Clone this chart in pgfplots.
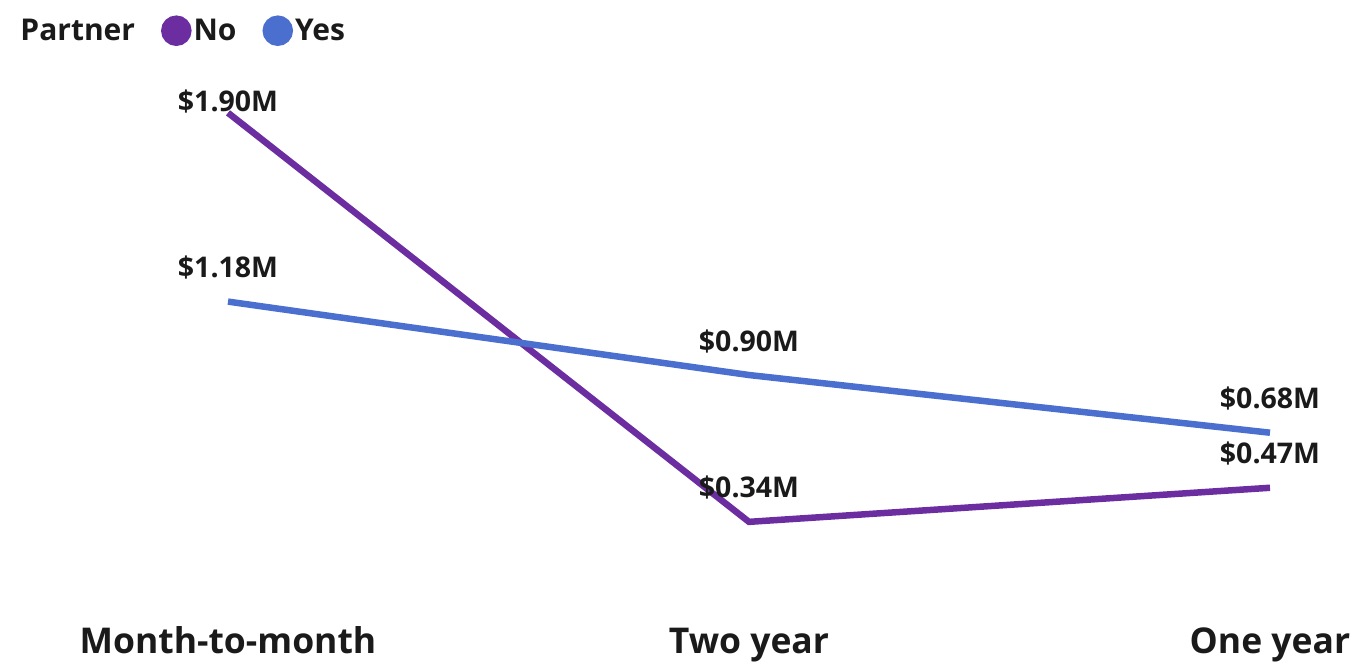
\documentclass[border=0pt]{standalone}
\usepackage{pgfplots}
\pgfplotsset{compat=1.18}
\usepackage{fontspec}
\setmainfont{Open Sans}
\definecolor{cno}{HTML}{6B2DA0}
\definecolor{cyes}{HTML}{4A6FCF}
\definecolor{ctext}{HTML}{1A1A1A}
\begin{document}
\begin{tikzpicture}
\begin{axis}[
  scale only axis, width=1350bp, height=664bp,
  xmin=-0.4376, xmax=2.1536, ymin=-0.2021, ymax=2.3303,
  axis line style={draw=none},
  tick style={draw=none},
  clip=false,
  xtick={0,1,2}, ytick=\empty,
  xticklabels={Month-to-month,Two year,One year},
  major tick length=0pt,
  xticklabel style={anchor=base, yshift=11bp, font=\fontsize{35.5bp}{40bp}\selectfont\bfseries, text=ctext},
  /pgf/number format/assume math mode=true,
  nodes near coords={\$\pgfmathprintnumber[fixed,fixed zerofill,precision=2]{\pgfplotspointmeta}M},
  visualization depends on={\thisrow{s}\as\sh},
  nodes near coords style={anchor=base, yshift=\sh bp, font=\fontsize{28.5bp}{33bp}\selectfont\bfseries, text=ctext},
  legend style={at={(axis description cs:0.0135,0.977)}, anchor=north west, draw=none, fill=none,
    inner sep=0pt, font=\fontsize{30bp}{35bp}\selectfont\bfseries, text=ctext,
    /tikz/every even column/.append style={column sep=24bp}},
  legend columns=-1,
]
\addlegendimage{empty legend}
\addlegendentry{Partner}
\addplot[color=cno, line width=6.5bp, mark=none,
  legend image code/.code={\fill (12bp,0) circle (12bp);}]
  table[x=x,y=y]{
x y s
0 1.90 1
1 0.34 24
2 0.47 24
};
\addlegendentry{No}
\addplot[color=cyes, line width=6.5bp, mark=none,
  legend image code/.code={\fill (12bp,0) circle (12bp);}]
  table[x=x,y=y]{
x y s
0 1.18 24
1 0.90 24
2 0.68 24
};
\addlegendentry{Yes}
\end{axis}
\pgfresetboundingbox
\path[use as bounding box] (current axis.south west) rectangle (current axis.north east);
\end{tikzpicture}
\end{document}
